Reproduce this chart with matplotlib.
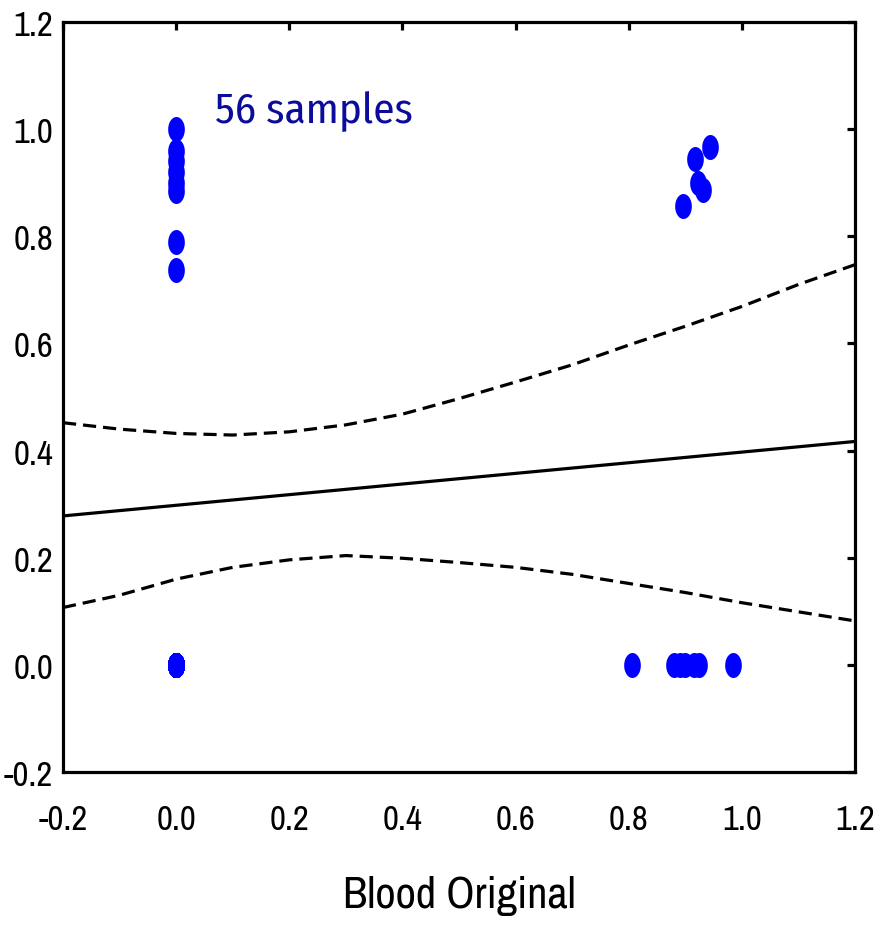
import matplotlib
matplotlib.use("Agg")
import matplotlib.pyplot as plt
from matplotlib import font_manager
from matplotlib.path import Path
import numpy as np

# ---------------- data ----------------
x_top_left = [0.0, 0.0, 0.0, 0.0, 0.0, 0.0, 0.0, 0.0]
y_top_left = [1.0, 0.96, 0.94, 0.92, 0.90, 0.885, 0.79, 0.737]
x_top_right = [0.944, 0.918, 0.922, 0.932, 0.896]
y_top_right = [0.967, 0.945, 0.900, 0.886, 0.856]
x_bot_right = [0.805, 0.88, 0.89, 0.90, 0.915, 0.925, 0.985]
y_bot_right = [0.0, 0.0, 0.0, 0.0, 0.0, 0.0, 0.0]
n_origin = 36
x_origin = [0.0] * n_origin
y_origin = [0.0] * n_origin

fit_x = [-0.2, 1.2]
fit_y = [0.278, 0.417]

band_x = [-0.2, -0.1, 0.0, 0.1, 0.2, 0.3, 0.4, 0.5, 0.6, 0.7, 0.8, 0.9, 1.0, 1.1, 1.2]
band_upper = [0.452, 0.440, 0.432, 0.429, 0.435, 0.448, 0.468, 0.497, 0.528, 0.560, 0.597, 0.632, 0.669, 0.710, 0.747]
band_lower = [0.107, 0.130, 0.160, 0.182, 0.196, 0.204, 0.199, 0.191, 0.182, 0.169, 0.152, 0.135, 0.116, 0.099, 0.082]

ticks = [-0.2, 0.0, 0.2, 0.4, 0.6, 0.8, 1.0, 1.2]
tick_labels = ["-0.2", "0.0", "0.2", "0.4", "0.6", "0.8", "1.0", "1.2"]

# ---------------- fonts ----------------
names = {f.name for f in font_manager.fontManager.ttflist}


def pick(*cands):
    for c in cands:
        if c in names:
            return c
    return "DejaVu Sans"


narrow = pick("Liberation Sans Narrow", "Archivo Narrow", "Roboto Condensed", "Liberation Sans")
humanist = pick("Fira Sans Condensed", "PT Sans Narrow", "Open Sans")
plt.rcParams["font.family"] = [narrow, "DejaVu Sans"]
plt.rcParams["lines.scale_dashes"] = False

fig = plt.figure(figsize=(8.76, 9.29), dpi=100)
ax = fig.add_axes([63 / 876, 1 - 773 / 929, (855 - 63) / 876, (773 - 23) / 929])

# elliptical marker (taller than wide)
t = np.linspace(0, 2 * np.pi, 60)
ell = Path(np.column_stack([np.cos(t) / 1.5, np.sin(t)]), closed=True)

lw = 2.3
ax.plot(fit_x, fit_y, color="black", lw=lw, solid_capstyle="butt")
ax.plot(band_x, band_upper, color="black", lw=lw, dashes=[9.5, 5.0])
ax.plot(band_x, band_lower, color="black", lw=lw, dashes=[9.5, 5.0])

for xs, ys in [(x_origin, y_origin), (x_top_left, y_top_left),
               (x_top_right, y_top_right), (x_bot_right, y_bot_right)]:
    ax.plot(xs, ys, linestyle="none", marker=ell, markersize=18,
            markerfacecolor="#0000ff", markeredgewidth=0, clip_on=False)

ax.text(0.068, 1.014, "56 samples", color="#0c0c9c", fontsize=31,
        family=[humanist, "DejaVu Sans"], ha="left", va="baseline")

ax.set_xlim(-0.2, 1.2)
ax.set_ylim(-0.2, 1.2)
ax.set_xticks(ticks)
ax.set_xticklabels(tick_labels)
ax.set_yticks(ticks)
ax.set_yticklabels(tick_labels)

for s in ax.spines.values():
    s.set_linewidth(2.3)

ax.tick_params(axis="both", direction="in", length=6, width=2.3,
               labelsize=25, colors="black")
ax.tick_params(axis="x", bottom=False, top=True, labelbottom=True, labeltop=False, pad=22)
ax.tick_params(axis="y", left=False, right=True, labelleft=True, labelright=False, pad=7)

ax.set_xlabel("Blood Original", fontsize=32, labelpad=29)

fig.savefig("out.png", dpi=100)
